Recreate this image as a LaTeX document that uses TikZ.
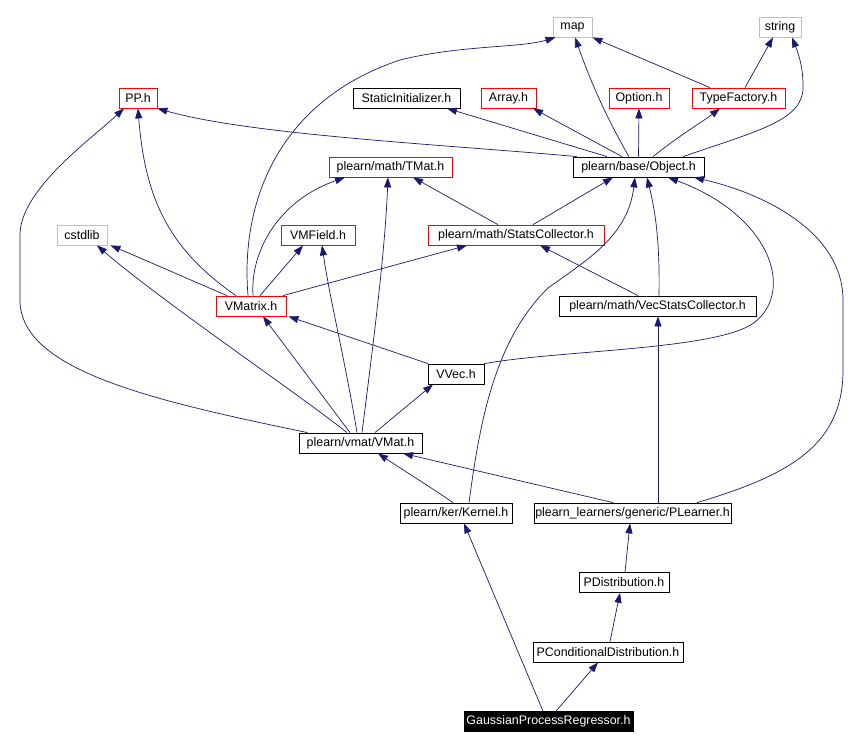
\documentclass[tikz,border=0pt]{standalone}
\usepackage{fontspec}
\setmainfont{Liberation Sans}
\usepackage{tikz}
\usetikzlibrary{arrows.meta}
\usetikzlibrary{calc}
\definecolor{midblue}{HTML}{191970}
\definecolor{boxgray}{HTML}{BFBFBF}

\begin{document}
\begin{tikzpicture}[x=1pt,y=-1pt,
    hdr/.style={draw=black,fill=white,line width=0.8pt,minimum height=20pt,inner sep=0pt,
      font=\fontsize{12.4}{14}\selectfont},
    redhdr/.style={hdr,draw=red},
    syshdr/.style={hdr,draw=boxgray},
    mainhdr/.style={hdr,fill=black,text=white}]
    \fill[white] (0,0) rectangle (862,748);
    \useasboundingbox (0,0) rectangle (862,748);
    %\draw[step=50, gray,very thin] (0,0) grid (862,748);

    % headers, top row first
    \node[syshdr,minimum width=39pt] (map) at (572.5,27) {map};
    \node[syshdr,minimum width=42pt] (string) at (780,27) {string};
    \node[redhdr,minimum width=38pt] (pp) at (138,98) {PP.h};
    \node[hdr,minimum width=107pt] (staticinit) at (406.5,98) {StaticInitializer.h};
    \node[redhdr,minimum width=55pt] (array) at (508.5,98) {Array.h};
    \node[redhdr,minimum width=60pt] (option) at (639,98) {Option.h};
    \node[redhdr,minimum width=93pt] (typefactory) at (738.5,98) {TypeFactory.h};
    \node[redhdr,minimum width=123pt] (tmat) at (390.5,167) {plearn/math/TMat.h};
    \node[hdr,minimum width=131pt] (object) at (638.5,167) {plearn/base/Object.h};
    \node[syshdr,minimum width=50pt] (cstdlib) at (82,235) {cstdlib};
    \node[redhdr,minimum width=74pt] (vmfield) at (318,235) {VMField.h};
    \node[redhdr,minimum width=176pt] (statscoll) at (516,235) {plearn/math/StatsCollector.h};
    \node[redhdr,minimum width=70pt] (vmatrix) at (251,306) {VMatrix.h};
    \node[hdr,minimum width=197pt] (vecstats) at (657.5,306) {plearn/math/VecStatsCollector.h};
    \node[hdr,minimum width=56pt] (vvec) at (456,374) {VVec.h};
    \node[hdr,minimum width=123pt] (vmat) at (360.5,443) {plearn/vmat/VMat.h};
    \node[hdr,minimum width=112pt] (kernel) at (456,513) {plearn/ker/Kernel.h};
    \node[hdr,minimum width=197pt] (plearner) at (632.5,513) {plearn\_learners/generic/PLearner.h};
    \node[hdr,minimum width=90pt] (pdist) at (624,582.5) {PDistribution.h};
    \node[hdr,minimum width=150pt] (pcond) at (608,652) {PConditionalDistribution.h};
    \node[mainhdr,minimum width=169pt] (gpr) at (548.5,721.5) {GaussianProcessRegressor.h};

    \begin{scope}[draw=midblue,line width=0.7pt,-{Triangle[length=10pt,width=7pt]}]
    % GaussianProcessRegressor.h and its chain
    \draw ($(gpr.north)+(-5.5,0)$) -- ($(kernel.south)+(8,0)$);
    \draw ($(gpr.north)+(7.5,0)$) -- ($(pcond.south)+(-10,0)$);
    \draw ($(pcond.north)+(2,0)$) -- ($(pdist.south)+(-4,0)$);
    \draw ($(pdist.north)+(1,0)$) -- ($(plearner.south)+(-2.5,0)$);
    % PLearner.h
    \draw ($(plearner.north)+(64.5,0)$) .. controls (790,475) and (843,445) .. (843,370)
        -- (843,300) .. controls (843,235) and (770,195) .. ($(object.south)+(55.5,0)$);
    \draw ($(plearner.north)+(-19.5,0)$) -- ($(vmat.south)+(42.5,0)$);
    \draw ($(plearner.north)+(25.5,0)$) -- ($(vecstats.south)+(0.5,0)$);
    % Kernel.h
    \draw ($(kernel.north)+(-3,0)$) .. controls (438,492) and (400,468) .. ($(vmat.south)+(17.5,0)$);
    \draw ($(kernel.north)+(13,0)$) .. controls (480,420) and (495,340) .. (548,288)
        .. controls (590,258) and (628,235) .. ($(object.south)+(-3.5,0)$);
    % VMat.h
    \draw ($(vmat.north)+(-10.5,0)$) -- ($(vmatrix.south)+(12,0)$);
    \draw ($(vmat.north)+(-13.5,0)$) .. controls (300,395) and (160,300) .. ($(cstdlib.south)+(15,0)$);
    \draw ($(vmat.north)+(-53,0)$) .. controls (150,400) and (20,370) .. (20,300)
        -- (20,235) .. controls (20,190) and (90,140) .. ($(pp.south)+(-14,0)$);
    \draw ($(vmat.north)+(-3.5,0)$) .. controls (345,360) and (330,300) .. ($(vmfield.south)+(4,0)$);
    \draw ($(vmat.north)+(1.5,0)$) .. controls (375,330) and (385,250) .. ($(tmat.south)+(-2.5,0)$);
    \draw ($(vmat.north)+(14.5,0)$) -- ($(vvec.south)+(-23,0)$);
    % VVec.h
    \draw ($(vvec.north)+(-28,0)$) -- ($(vmatrix.south east)+(2,0)$);
    \draw (vvec.north east) .. controls (560,350) and (720,350) .. (755,322)
        .. controls (795,290) and (770,215) .. ($(object.south)+(29.5,0)$);
    % VMatrix.h
    \draw ($(vmatrix.north)+(-24,0)$) .. controls (195,282) and (150,262) .. ($(cstdlib.south east)+(3,0)$);
    \draw ($(vmatrix.north)+(9,0)$) -- ($(vmfield.south)+(-15,0)$);
    \draw ($(vmatrix.north)+(32,0)$) -- ($(statscoll.south)+(-49,0)$);
    \draw ($(vmatrix.north)+(2,0)$) .. controls (250,250) and (280,200) .. ($(tmat.south)+(-45.5,0)$);
    \draw ($(vmatrix.north)+(-15,0)$) .. controls (170,250) and (145,200) .. (pp.south);
    \draw ($(vmatrix.north)+(-3,0)$) .. controls (240,200) and (280,100) .. (400,60)
        .. controls (460,45) and (520,48) .. ($(map.south)+(-17,0)$);
    % StatsCollector.h, VecStatsCollector.h
    \draw ($(statscoll.north)+(-18,0)$) -- ($(tmat.south)+(22.5,0)$);
    \draw ($(statscoll.north)+(17,0)$) -- ($(object.south)+(-25.5,0)$);
    \draw ($(vecstats.north)+(-19.5,0)$) -- ($(statscoll.south)+(24,0)$);
    \draw ($(vecstats.north)+(1.5,0)$) .. controls (660,240) and (655,210) .. ($(object.south)+(8.5,0)$);
    % Object.h
    \draw ($(object.north)+(-61.5,0)$) .. controls (450,145) and (250,135) .. (pp.south east);
    \draw ($(object.north)+(-31.5,0)$) -- ($(staticinit.south)+(40.5,0)$);
    \draw ($(object.north)+(-16.5,0)$) -- ($(array.south)+(24.5,0)$);
    \draw (object.north) -- (option.south);
    \draw ($(object.north)+(14.5,0)$) .. controls (680,135) and (705,120) .. ($(typefactory.south)+(-18.5,0)$);
    \draw ($(object.north)+(-9.5,0)$) .. controls (605,115) and (590,80) .. ($(map.south)+(2.5,0)$);
    \draw ($(object.north)+(44.5,0)$) .. controls (760,130) and (805,120) .. (803,85)
        .. controls (803,65) and (797,50) .. ($(string.south)+(12,0)$);
    % TypeFactory.h
    \draw ($(typefactory.north)+(-28.5,0)$) -- (map.south east);
    \draw ($(typefactory.north)+(6.5,0)$) -- ($(string.south)+(-7,0)$);
    \end{scope}
\end{tikzpicture}
\end{document}
